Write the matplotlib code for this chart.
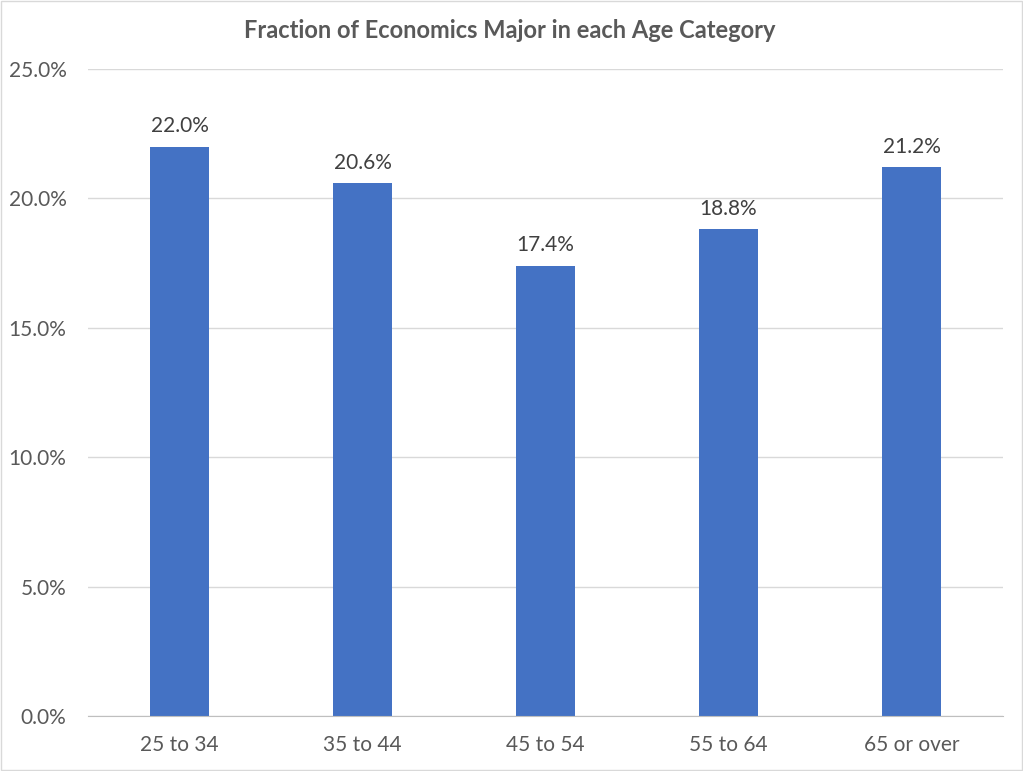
import matplotlib
matplotlib.use("Agg")
import matplotlib.pyplot as plt
from matplotlib.patches import Rectangle

categories = ["25 to 34", "35 to 44", "45 to 54", "55 to 64", "65 or over"]
values = [22.0, 20.6, 17.4, 18.8, 21.2]
yticks = [0, 5, 10, 15, 20, 25]
title = "Fraction of Economics Major in each Age Category"

plt.rcParams['font.family'] = ['Lato', 'DejaVu Sans']
txt = "#595959"

fig = plt.figure(figsize=(10.23, 7.71), dpi=100)
ax = fig.add_axes([88/1023, 1-716/771, (1003-88)/1023, (716-69)/771])

x = list(range(len(categories)))
ax.bar(x, values, width=0.317, color="#4472C4", zorder=3)
for xi, v in zip(x, values):
    ax.text(xi, v + 0.4, f"{v:.1f}%", ha="center", va="bottom", fontsize=15, color="#404040")

ax.set_xlim(-0.5, 4.5)
ax.set_ylim(0, 25)
ax.set_yticks(yticks)
ax.set_yticklabels([f"{t:.1f}%" for t in yticks], fontsize=15, color=txt)
ax.set_xticks(x)
ax.set_xticklabels(categories, fontsize=15, color=txt)
ax.tick_params(axis="both", length=0)
ax.tick_params(axis="y", pad=15.5)
ax.tick_params(axis="x", pad=14)
ax.grid(axis="y", color="#D9D9D9", linewidth=1, zorder=0)
for s in ["top", "right", "left"]:
    ax.spines[s].set_visible(False)
ax.spines["bottom"].set_color("#BFBFBF")
ax.spines["bottom"].set_zorder(4)

fig.text(510/1023, 1-30/771, title, ha="center", va="center", fontsize=17, fontweight="bold", color=txt)
fig.patches.append(Rectangle((0.001, 0.001), 0.998, 0.998, transform=fig.transFigure,
                             fill=False, edgecolor="#D9D9D9", linewidth=1))

fig.savefig("out.png", dpi=100)
